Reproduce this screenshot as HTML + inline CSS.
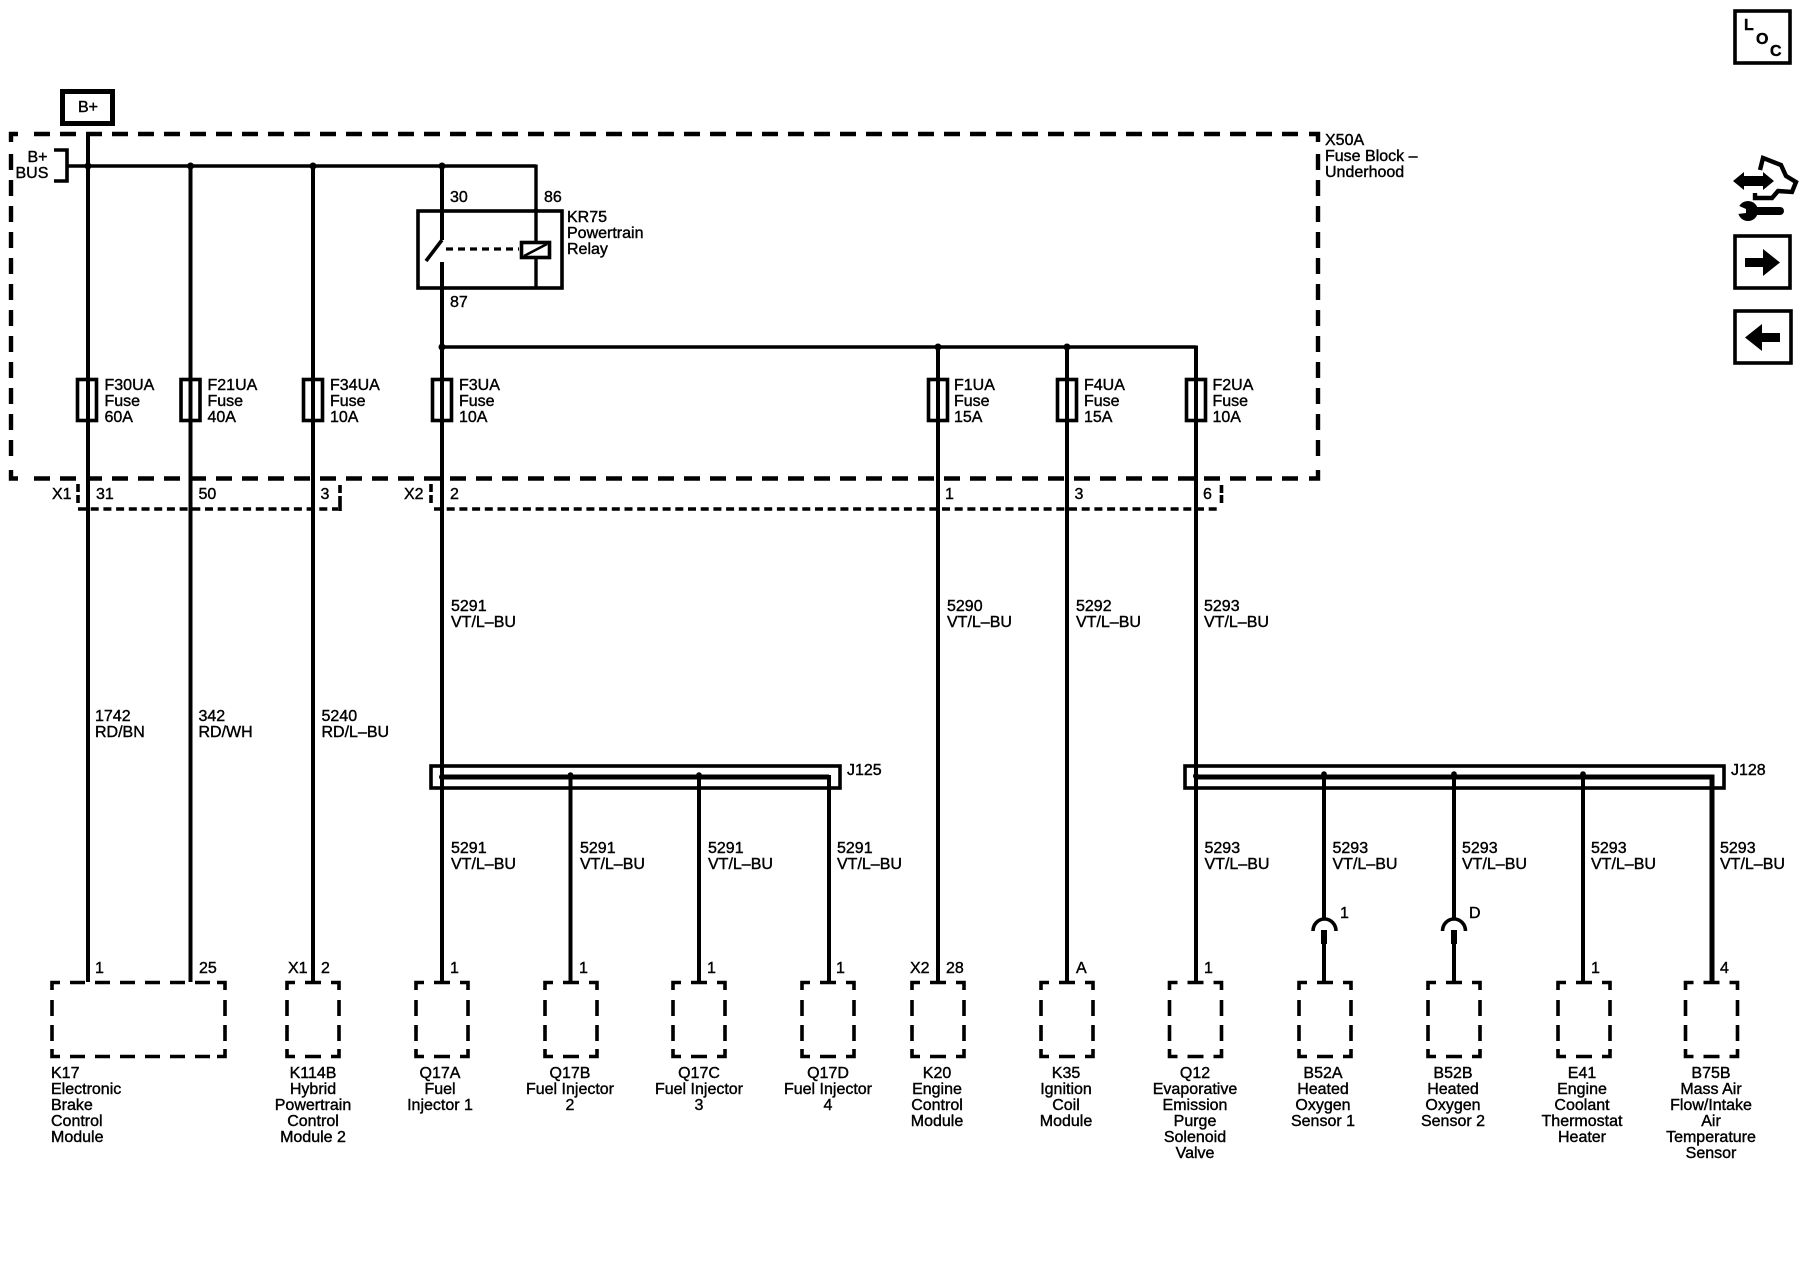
<!DOCTYPE html>
<html><head><meta charset="utf-8"><style>
html,body{margin:0;padding:0;background:#fff}
svg{display:block}
text{font-family:"Liberation Sans",sans-serif;font-size:16px;fill:#000;stroke:#000;stroke-width:.4}
.w{stroke:#000;fill:none;stroke-width:4}
.h{stroke:#000;fill:none;stroke-width:3.4}
</style></head><body>
<svg width="1800" height="1280" viewBox="0 0 1800 1280" xmlns="http://www.w3.org/2000/svg">
<defs>
<g id="box" fill="none" stroke="#000" stroke-width="3.6">
<path d="M-26 990V982.500H-18M18 982.500H26V990M-26 1049V1056.500H-18M18 1056.500H26V1049"/>
<path d="M-8 982.500H8M-8 1056.500H8M-26 1000V1016M-26 1025V1041M26 1000V1016M26 1025V1041"/>
</g>
<g id="fuse" fill="none" stroke="#000" stroke-width="3.6"><rect x="-9.500" y="379.500" width="19" height="41"/></g>
</defs>
<rect width="1800" height="1280" fill="#fff"/>

<!-- B+ -->
<rect x="62.500" y="91.500" width="50" height="32" fill="none" stroke="#000" stroke-width="5"/>
<text x="78" y="112">B+</text>

<!-- Fuse block outline -->
<g fill="none" stroke="#000" stroke-width="4.400">
<path d="M18 134H11V142M1309 134H1318V142M11 470V478.500H18M1309 478.500H1318V470"/>
<path d="M34 134H1305M34 478.500H1305" stroke-dasharray="16 10"/>
<path d="M11 154V462M1318 154V462" stroke-dasharray="16 10"/>
</g>
<text x="1325" y="145">X50A</text><text x="1325" y="161">Fuse Block –</text><text x="1325" y="177">Underhood</text>

<!-- B+ BUS -->
<text x="27.500" y="162">B+</text><text x="15.500" y="178">BUS</text>
<path d="M54 150H67V181H54" fill="none" stroke="#000" stroke-width="3.600"/>
<path class="h" d="M67 166H536"/>
<path class="h" d="M536 164.500V241M536 258V288"/>
<g fill="#000"><circle cx="88" cy="166" r="3.500"/><circle cx="190.500" cy="166" r="3.500"/><circle cx="313" cy="166" r="3.500"/><circle cx="442" cy="166" r="3.500"/></g>

<!-- Vertical wires -->
<path class="w" d="M88 132V982M190.500 166V982M313 166V982M442 166V240M442 262V982"/>
<path class="h" d="M442 347H1196"/>
<path class="w" d="M1196 345.500V776M938 347V982M1067 347V982"/>
<g fill="#000"><circle cx="442" cy="347" r="3.500"/><circle cx="938" cy="347" r="3.500"/><circle cx="1067" cy="347" r="3.500"/></g>

<!-- Relay -->
<rect x="418" y="211" width="144" height="77" fill="none" stroke="#000" stroke-width="3.600"/>
<path d="M442 240L426 261" stroke="#000" stroke-width="3.600" fill="none"/>
<path d="M446 249H519" stroke="#000" stroke-width="3.200" stroke-dasharray="7 5" fill="none"/>
<rect x="521.500" y="242.500" width="28" height="15" fill="#fff" stroke="#000" stroke-width="3.600"/>
<path d="M524 256L547 244" stroke="#000" stroke-width="2.500"/>
<text x="450" y="202">30</text><text x="544" y="202">86</text><text x="450" y="307">87</text>
<text x="567" y="222">KR75</text><text x="567" y="238">Powertrain</text><text x="567" y="254">Relay</text>

<!-- Fuses -->
<use href="#fuse" x="87"/><use href="#fuse" x="190.500"/><use href="#fuse" x="313"/><use href="#fuse" x="442"/>
<use href="#fuse" x="938"/><use href="#fuse" x="1067"/><use href="#fuse" x="1196"/>
<text x="104.500" y="390">F30UA</text><text x="104.500" y="406">Fuse</text><text x="104.500" y="422">60A</text>
<text x="207.500" y="390">F21UA</text><text x="207.500" y="406">Fuse</text><text x="207.500" y="422">40A</text>
<text x="330" y="390">F34UA</text><text x="330" y="406">Fuse</text><text x="330" y="422">10A</text>
<text x="459" y="390">F3UA</text><text x="459" y="406">Fuse</text><text x="459" y="422">10A</text>
<text x="954" y="390">F1UA</text><text x="954" y="406">Fuse</text><text x="954" y="422">15A</text>
<text x="1084" y="390">F4UA</text><text x="1084" y="406">Fuse</text><text x="1084" y="422">15A</text>
<text x="1212.500" y="390">F2UA</text><text x="1212.500" y="406">Fuse</text><text x="1212.500" y="422">10A</text>

<!-- X1 / X2 connector dashes -->
<g fill="none" stroke="#000" stroke-width="3.600">
<path d="M78 509H338" stroke-dasharray="8 4.700"/>
<path d="M78 484V492M78 495V503M340 485V493M340 496V511"/>
<path d="M434 509H1221" stroke-dasharray="8 4.700"/>
<path d="M431 484V492M431 495V503M1221.500 485V493M1221.500 495V503"/>
</g>
<text x="52" y="499">X1</text><text x="96" y="499">31</text><text x="198.500" y="499">50</text><text x="320.500" y="499">3</text>
<text x="404" y="499">X2</text><text x="450" y="499">2</text><text x="945" y="499">1</text><text x="1074.500" y="499">3</text><text x="1203" y="499">6</text>

<!-- Upper wire labels -->
<text x="451" y="611">5291</text><text x="451" y="627">VT/L–BU</text>
<text x="947" y="611">5290</text><text x="947" y="627">VT/L–BU</text>
<text x="1076" y="611">5292</text><text x="1076" y="627">VT/L–BU</text>
<text x="1204" y="611">5293</text><text x="1204" y="627">VT/L–BU</text>
<text x="95" y="721">1742</text><text x="95" y="737">RD/BN</text>
<text x="198.500" y="721">342</text><text x="198.500" y="737">RD/WH</text>
<text x="321.500" y="721">5240</text><text x="321.500" y="737">RD/L–BU</text>

<!-- J125 -->
<rect x="431" y="766" width="409" height="22" fill="none" stroke="#000" stroke-width="3.600"/>
<path class="w" style="stroke-width:5" d="M442 777H829"/>
<path class="w" d="M829 775V982"/>
<path class="w" d="M570.500 777V982M699 777V982"/>
<g fill="#000"><circle cx="442" cy="777" r="3"/><circle cx="570.500" cy="775" r="2.800"/><circle cx="699" cy="775" r="2.800"/></g>
<text x="847" y="775">J125</text>

<!-- J128 -->
<rect x="1185" y="766" width="539" height="22" fill="none" stroke="#000" stroke-width="3.600"/>
<path class="w" d="M1196 776V982"/>
<path class="w" style="stroke-width:5" d="M1196 777H1712V982"/>
<path class="w" d="M1324 777V918M1324 943V982M1454 777V918M1454 943V982M1583 777V982"/>
<g fill="#000"><circle cx="1196" cy="776" r="3"/><circle cx="1324" cy="774" r="2.800"/><circle cx="1454" cy="774" r="2.800"/><circle cx="1583" cy="774" r="2.800"/></g>
<text x="1731" y="775">J128</text>

<!-- Inline connectors -->
<g fill="none" stroke="#000" stroke-width="3.600">
<path d="M1313 931A11.500 12 0 0 1 1336 931"/>
<path d="M1442.500 931A11.500 12 0 0 1 1465.500 931"/>
</g>
<rect x="1321" y="930" width="6" height="14" fill="#000"/>
<rect x="1451" y="930" width="6" height="14" fill="#000"/>
<text x="1340" y="918">1</text><text x="1469" y="918">D</text>

<!-- Lower wire labels -->
<g>
<text x="451" y="853">5291</text><text x="451" y="869">VT/L–BU</text>
<text x="580" y="853">5291</text><text x="580" y="869">VT/L–BU</text>
<text x="708" y="853">5291</text><text x="708" y="869">VT/L–BU</text>
<text x="837" y="853">5291</text><text x="837" y="869">VT/L–BU</text>
<text x="1204.500" y="853">5293</text><text x="1204.500" y="869">VT/L–BU</text>
<text x="1332.500" y="853">5293</text><text x="1332.500" y="869">VT/L–BU</text>
<text x="1462" y="853">5293</text><text x="1462" y="869">VT/L–BU</text>
<text x="1591" y="853">5293</text><text x="1591" y="869">VT/L–BU</text>
<text x="1720" y="853">5293</text><text x="1720" y="869">VT/L–BU</text>
</g>

<!-- Pin labels -->
<text x="95" y="973">1</text><text x="199" y="973">25</text>
<text x="288" y="973">X1</text><text x="321" y="973">2</text>
<text x="450" y="973">1</text><text x="579" y="973">1</text><text x="707" y="973">1</text><text x="836" y="973">1</text>
<text x="910" y="973">X2</text><text x="946" y="973">28</text><text x="1076" y="973">A</text>
<text x="1204" y="973">1</text><text x="1591" y="973">1</text><text x="1720" y="973">4</text>

<!-- K17 box -->
<g fill="none" stroke="#000" stroke-width="3.600">
<path d="M52 990V982.500H60M217 982.500H225V990M52 1049V1056.500H60M217 1056.500H225V1049"/>
<path d="M70 982.500H215" stroke-dasharray="15 10"/>
<path d="M70 1056.500H215" stroke-dasharray="15 10"/>
<path d="M52 1000V1016M52 1025V1041M225 1000V1016M225 1025V1041"/>
</g>

<!-- Component boxes -->
<use href="#box" x="313"/><use href="#box" x="442"/><use href="#box" x="571"/><use href="#box" x="699"/><use href="#box" x="828"/>
<use href="#box" x="938"/><use href="#box" x="1067"/><use href="#box" x="1195.500"/><use href="#box" x="1325"/><use href="#box" x="1454"/><use href="#box" x="1584"/><use href="#box" x="1711.500"/>

<!-- Component labels -->
<text x="51" y="1078">K17</text><text x="51" y="1094">Electronic</text><text x="51" y="1110">Brake</text><text x="51" y="1126">Control</text><text x="51" y="1142">Module</text>
<g text-anchor="middle">
<text x="313" y="1078">K114B</text><text x="313" y="1094">Hybrid</text><text x="313" y="1110">Powertrain</text><text x="313" y="1126">Control</text><text x="313" y="1142">Module 2</text>
<text x="440" y="1078">Q17A</text><text x="440" y="1094">Fuel</text><text x="440" y="1110">Injector 1</text>
<text x="570" y="1078">Q17B</text><text x="570" y="1094">Fuel Injector</text><text x="570" y="1110">2</text>
<text x="699" y="1078">Q17C</text><text x="699" y="1094">Fuel Injector</text><text x="699" y="1110">3</text>
<text x="828" y="1078">Q17D</text><text x="828" y="1094">Fuel Injector</text><text x="828" y="1110">4</text>
<text x="937" y="1078">K20</text><text x="937" y="1094">Engine</text><text x="937" y="1110">Control</text><text x="937" y="1126">Module</text>
<text x="1066" y="1078">K35</text><text x="1066" y="1094">Ignition</text><text x="1066" y="1110">Coil</text><text x="1066" y="1126">Module</text>
<text x="1195" y="1078">Q12</text><text x="1195" y="1094">Evaporative</text><text x="1195" y="1110">Emission</text><text x="1195" y="1126">Purge</text><text x="1195" y="1142">Solenoid</text><text x="1195" y="1158">Valve</text>
<text x="1323" y="1078">B52A</text><text x="1323" y="1094">Heated</text><text x="1323" y="1110">Oxygen</text><text x="1323" y="1126">Sensor 1</text>
<text x="1453" y="1078">B52B</text><text x="1453" y="1094">Heated</text><text x="1453" y="1110">Oxygen</text><text x="1453" y="1126">Sensor 2</text>
<text x="1582" y="1078">E41</text><text x="1582" y="1094">Engine</text><text x="1582" y="1110">Coolant</text><text x="1582" y="1126">Thermostat</text><text x="1582" y="1142">Heater</text>
<text x="1711" y="1078">B75B</text><text x="1711" y="1094">Mass Air</text><text x="1711" y="1110">Flow/Intake</text><text x="1711" y="1126">Air</text><text x="1711" y="1142">Temperature</text><text x="1711" y="1158">Sensor</text>
</g>

<!-- Right icons -->
<rect x="1735" y="11" width="55" height="52" fill="none" stroke="#000" stroke-width="3.600"/>
<text x="1744" y="30" style="font-weight:bold">L</text><text x="1756" y="44" style="font-weight:bold">O</text><text x="1770" y="56" style="font-weight:bold">C</text>

<path d="M1733 181L1744 172V176H1763V172L1774 181L1763 190V186H1744V190Z" fill="#000"/>
<path d="M1760 170L1763 158L1781 165L1786 176L1796 182L1792 192L1778 191L1772 198L1755 198V193" fill="none" stroke="#000" stroke-width="4.400"/>
<path d="M1757 211H1780" stroke="#000" stroke-width="8" stroke-linecap="round"/>
<circle cx="1748" cy="211" r="10" fill="#000"/>
<path d="M1737 205L1746 209L1746 213L1738 214Z" fill="#fff"/>

<rect x="1735" y="236" width="55" height="52" fill="none" stroke="#000" stroke-width="3.600"/>
<path d="M1745 258H1763V249L1780 262.500L1763 276V267H1745Z" fill="#000"/>
<rect x="1735" y="311" width="56" height="52" fill="none" stroke="#000" stroke-width="3.600"/>
<path d="M1780 333H1762V324L1745 337.500L1762 351V342H1780Z" fill="#000"/>
</svg>
</body></html>
